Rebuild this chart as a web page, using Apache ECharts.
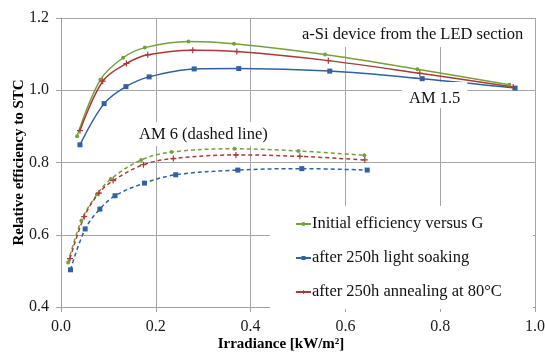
<!DOCTYPE html>
<html><head><meta charset="utf-8">
<script src="https://cdn.jsdelivr.net/npm/echarts@6/dist/echarts.min.js"></script>
<style>html,body{margin:0;padding:0;background:#fff}#c{width:545px;height:354px}</style>
</head><body><div id="c"></div><script>
// AM 1.5 (solid lines)
var initAM15X = [0.034, 0.083, 0.131, 0.177, 0.269, 0.365, 0.557, 0.752, 0.946];
var initAM15Y = [0.873, 1.029, 1.090, 1.118, 1.135, 1.129, 1.099, 1.058, 1.015];
var soakAM15X = [0.040, 0.091, 0.137, 0.186, 0.281, 0.375, 0.567, 0.762, 0.958];
var soakAM15Y = [0.849, 0.963, 1.010, 1.037, 1.059, 1.060, 1.053, 1.032, 1.006];
var annAM15X  = [0.040, 0.088, 0.138, 0.183, 0.278, 0.371, 0.564, 0.757, 0.954];
var annAM15Y  = [0.888, 1.025, 1.074, 1.098, 1.111, 1.107, 1.082, 1.047, 1.009];
// AM 6 (dashed lines)
var initAM6X = [0.015, 0.043, 0.076, 0.105, 0.169, 0.233, 0.366, 0.501, 0.640];
var initAM6Y = [0.523, 0.639, 0.712, 0.754, 0.807, 0.829, 0.838, 0.832, 0.820];
var soakAM6X = [0.020, 0.051, 0.082, 0.114, 0.176, 0.242, 0.373, 0.508, 0.646];
var soakAM6Y = [0.503, 0.616, 0.671, 0.708, 0.743, 0.766, 0.779, 0.783, 0.779];
var annAM6X  = [0.019, 0.049, 0.080, 0.110, 0.174, 0.237, 0.369, 0.504, 0.641];
var annAM6Y  = [0.534, 0.650, 0.715, 0.750, 0.794, 0.811, 0.821, 0.817, 0.807];

var seriesNames = ['Initial efficiency versus G', 'after 250h light soaking', 'after 250h annealing at 80°C'];
var xTicks = ['0.0', '0.2', '0.4', '0.6', '0.8', '1.0'];
var yTicks = ['0.4', '0.6', '0.8', '1.0', '1.2'];
var xTitle = 'Irradiance [kW/m²]';
var yTitle = 'Relative efficiency to STC';
var noteTop = 'a-Si device from the LED section';
var noteAM15 = 'AM 1.5';
var noteAM6 = 'AM 6 (dashed line)';

function pairs(xs, ys) { return xs.map(function (x, i) { return [x, ys[i]]; }); }

var GREEN = '#76A03A', BLUE = '#2F62A0', RED = '#A73B38';
var FONT = 'Liberation Serif';
var plusPath = 'path://M2,0H3V2H5V3H3V5H2V3H0V2H2Z';

function mk(name, xs, ys, color, symbol, size, dashed) {
  return {
    name: name, type: 'line', data: pairs(xs, ys), smooth: 0.35,
    symbol: symbol, symbolSize: size, showSymbol: true,
    lineStyle: { color: color, width: 1.5, type: dashed ? [4, 3] : 'solid' },
    itemStyle: { color: color },
    emphasis: { disabled: true }, animation: false, z: 3
  };
}

var tickRich = { t: { fontFamily: FONT, fontSize: 16, color: '#1a1a1a' } };

var chart = echarts.init(document.getElementById('c'), null, { renderer: 'canvas' });
chart.setOption({
  animation: false,
  backgroundColor: '#fff',
  textStyle: { fontFamily: FONT },
  grid: { left: 61, right: 10, top: 18, bottom: 47, containLabel: false, outerBoundsMode: 'none' },
  xAxis: {
    type: 'value', min: 0, max: 1, interval: 0.2,
    name: xTitle, nameLocation: 'middle', nameGap: 30, nameMoveOverlap: false,
    nameTextStyle: { fontFamily: FONT, fontWeight: 'bold', fontSize: 15, color: '#000', padding: [0, 34, 0, 0] },
    axisLine: { show: true, lineStyle: { color: '#a0a0a0', width: 1 } },
    axisTick: { show: true, length: 5, inside: false, lineStyle: { color: '#a0a0a0' } },
    axisLabel: { margin: 12, fontFamily: FONT, fontSize: 16, color: '#1a1a1a', rich: tickRich,
      formatter: function (v) { return '{t|' + xTicks[Math.round(v / 0.2)] + '}'; } },
    splitLine: { show: true, lineStyle: { color: '#a6a6a6', width: 1 } }
  },
  yAxis: {
    type: 'value', min: 0.4, max: 1.2, interval: 0.2,
    name: yTitle, nameLocation: 'middle', nameGap: 34, nameRotate: 90, nameMoveOverlap: false,
    nameTextStyle: { fontFamily: FONT, fontWeight: 'bold', fontSize: 15, color: '#000' },
    axisLine: { show: true, lineStyle: { color: '#a0a0a0', width: 1 } },
    axisTick: { show: true, length: 5, inside: false, lineStyle: { color: '#a0a0a0' } },
    axisLabel: { margin: 12, fontFamily: FONT, fontSize: 16, color: '#1a1a1a', rich: tickRich,
      formatter: function (v) { return '{t|' + yTicks[Math.round((v - 0.4) / 0.2)] + '}'; } },
    splitLine: { show: true, lineStyle: { color: '#a6a6a6', width: 1 } }
  },
  title: [
    { text: noteTop, left: 296, top: 19, padding: [7, 8, 4, 6], backgroundColor: '#fff',
      textStyle: { fontFamily: FONT, fontSize: 16.5, fontWeight: 'normal', color: '#111' } },
    { text: noteAM15, left: 402, top: 82, padding: [8, 7, 1, 7], backgroundColor: '#fff',
      textStyle: { fontFamily: FONT, fontSize: 16.5, fontWeight: 'normal', color: '#111' } },
    { text: noteAM6, left: 136, top: 122, padding: [4, 3, 3, 3], backgroundColor: '#fff',
      textStyle: { fontFamily: FONT, fontSize: 16.5, fontWeight: 'normal', color: '#111' } }
  ],
  legend: {
    data: seriesNames, orient: 'vertical', left: 270, top: 206,
    padding: [9, 31, 8, 25], itemGap: 16, itemWidth: 15, itemHeight: 5,
    backgroundColor: '#fff', selectedMode: false,
    textStyle: { fontFamily: FONT, fontSize: 16.5, color: '#111', lineHeight: 18, padding: [0, 0, 0, -4] }
  },
  series: [
    mk(seriesNames[0], initAM15X, initAM15Y, GREEN, 'circle', 4, false),
    mk(seriesNames[1], soakAM15X, soakAM15Y, BLUE, 'rect', 5, false),
    mk(seriesNames[2], annAM15X, annAM15Y, RED, plusPath, 6, false),
    mk('Initial AM 6', initAM6X, initAM6Y, GREEN, 'circle', 4, true),
    mk('Light soaking AM 6', soakAM6X, soakAM6Y, BLUE, 'rect', 5, true),
    mk('Annealing AM 6', annAM6X, annAM6Y, RED, plusPath, 6, true)
  ]
});
</script></body></html>
